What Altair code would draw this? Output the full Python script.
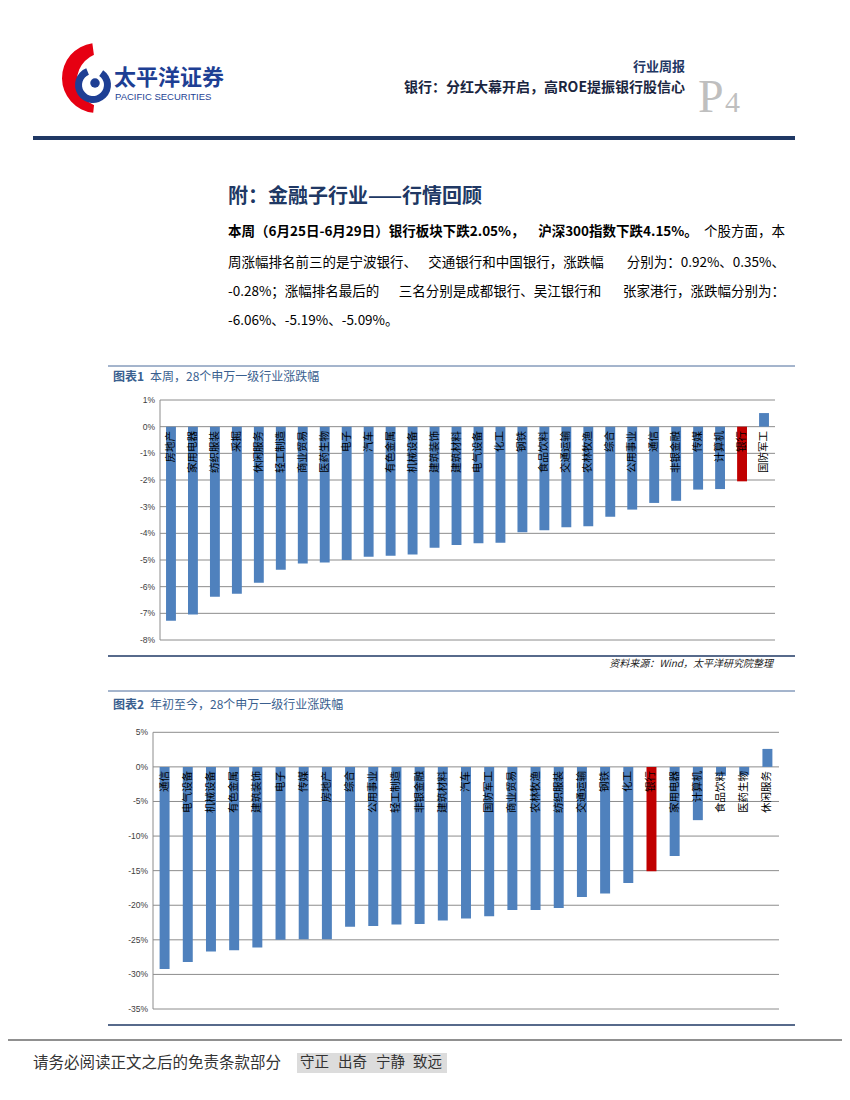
import altair as alt
import pandas as pd

# ---------------- data ----------------
week_industries = ["房地产", "家用电器", "纺织服装", "采掘", "休闲服务", "轻工制造", "商业贸易",
                   "医药生物", "电子", "汽车", "有色金属", "机械设备", "建筑装饰", "建筑材料",
                   "电气设备", "化工", "钢铁", "食品饮料", "交通运输", "农林牧渔", "综合",
                   "公用事业", "通信", "非银金融", "传媒", "计算机", "银行", "国防军工"]
week_changes = [-7.28, -7.04, -6.38, -6.27, -5.85, -5.37, -5.13, -5.09, -5.00, -4.88, -4.84,
                -4.79, -4.54, -4.44, -4.37, -4.35, -3.96, -3.88, -3.77, -3.73, -3.38, -3.11,
                -2.86, -2.78, -2.36, -2.34, -2.05, 0.51]
week_ticks = [1, 0, -1, -2, -3, -4, -5, -6, -7, -8]

ytd_industries = ["通信", "电气设备", "机械设备", "有色金属", "建筑装饰", "电子", "传媒", "房地产",
                  "综合", "公用事业", "轻工制造", "非银金融", "建筑材料", "汽车", "国防军工",
                  "商业贸易", "农林牧渔", "纺织服装", "交通运输", "钢铁", "化工", "银行",
                  "家用电器", "计算机", "食品饮料", "医药生物", "休闲服务"]
ytd_changes = [-29.2, -28.2, -26.7, -26.5, -26.1, -25.0, -24.9, -24.9, -23.1, -23.0, -22.8,
               -22.7, -22.2, -21.9, -21.6, -20.7, -20.7, -20.4, -18.8, -18.3, -16.8, -15.1,
               -12.9, -7.7, -1.3, -1.2, 2.6]
ytd_ticks = [5, 0, -5, -10, -15, -20, -25, -30, -35]

HIGHLIGHT = "银行"

# ---------------- helpers ----------------
M = 8
FONT = "Noto Sans CJK SC"
BLUE = "#4F81BD"
RED = "#C00000"
NAVY = "#1F3864"


def px(v):
    return v - M


def one():
    return alt.Data(values=[{}])


def text(s, x, y, size=12, color="#000000", weight="normal", align="left",
         baseline="middle", font=FONT, style="normal"):
    return alt.Chart(one()).mark_text(
        text=s, fontSize=size, color=color, fontWeight=weight, align=align,
        baseline=baseline, font=font, fontStyle=style
    ).encode(x=alt.value(px(x)), y=alt.value(px(y)))


def hline(x1, x2, y, color="#000000", width=1.0):
    return alt.Chart(one()).mark_rule(color=color, strokeWidth=width).encode(
        x=alt.value(px(x1)), x2=alt.value(px(x2)), y=alt.value(px(y)))


def vline(x, y1, y2, color="#000000", width=1.0):
    return alt.Chart(one()).mark_rule(color=color, strokeWidth=width).encode(
        x=alt.value(px(x)), y=alt.value(px(y1)), y2=alt.value(px(y2)))


def rect(x1, x2, y1, y2, color):
    return alt.Chart(one()).mark_rect(color=color).encode(
        x=alt.value(px(x1)), x2=alt.value(px(x2)), y=alt.value(px(y1)), y2=alt.value(px(y2)))


def bar_panel(cats, vals, ticks, left, right, ytop, ybottom, dom, pad_inner, lab_x, cat_y):
    df = pd.DataFrame({"industry": cats, "change": vals})
    tdf = pd.DataFrame({"change": ticks, "label": [f"{t}%" for t in ticks]})
    xs = alt.Scale(domain=cats, range=[px(left), px(right)], paddingInner=pad_inner,
                   paddingOuter=pad_inner / 2)
    ys = alt.Scale(domain=dom, range=[px(ybottom), px(ytop)], nice=False, zero=False)
    grid = alt.Chart(tdf).mark_rule(color="#8C8C8C", strokeWidth=1).encode(
        y=alt.Y("change:Q", scale=ys, axis=None),
        x=alt.value(px(left)), x2=alt.value(px(right)))
    ticklab = alt.Chart(tdf).mark_text(
        align="right", baseline="middle", fontSize=8.5, color="#404040", font="Liberation Sans"
    ).encode(y=alt.Y("change:Q", scale=ys, axis=None), x=alt.value(px(lab_x)), text="label:N")
    axis_line = vline(left, ytop, ybottom, color="#8C8C8C", width=1)
    bars = alt.Chart(df).mark_bar().encode(
        x=alt.X("industry:N", scale=xs, axis=None, sort=cats),
        y=alt.Y("change:Q", scale=ys, axis=None),
        y2=alt.datum(0),
        color=alt.condition(alt.datum.industry == HIGHLIGHT, alt.value(RED), alt.value(BLUE)),
    )
    catlab = alt.Chart(df).mark_text(
        angle=270, align="right", baseline="middle", fontSize=10.5, color="#000000", font=FONT
    ).encode(x=alt.X("industry:N", scale=xs, axis=None, sort=cats),
             y=alt.value(px(cat_y)), text="industry:N")
    return alt.layer(grid, axis_line, bars, ticklab, catlab)


panel1 = bar_panel(week_industries, week_changes, week_ticks, 160, 775, 400, 640,
                   [-8, 1], 0.55, 155, 431)
panel2 = bar_panel(ytd_industries, ytd_changes, ytd_ticks, 153, 779, 732.3, 1009,
                   [-35, 5], 0.57, 148, 771)

# ---------------- page decoration ----------------
PS = 13.5
decor = [
    # logo
    alt.Chart(one()).mark_arc(outerRadius=35, innerRadius=0, color="#E60012").encode(
        x=alt.value(px(97)), y=alt.value(px(78)), theta=alt.value(3.25), theta2=alt.value(6.15)),
    alt.Chart(one()).mark_circle(size=2900, color="#FFFFFF", opacity=1).encode(
        x=alt.value(px(104)), y=alt.value(px(80))),
    alt.Chart(one()).mark_arc(outerRadius=18, innerRadius=11, color="#1E3F94").encode(
        x=alt.value(px(93)), y=alt.value(px(85)), theta=alt.value(0.6), theta2=alt.value(5.9)),
    alt.Chart(one()).mark_circle(size=90, color="#1E3F94", opacity=1).encode(
        x=alt.value(px(95)), y=alt.value(px(83))),
    text("太平洋证券", 114, 78, size=22, color="#1E3F94", weight="bold"),
    text("PACIFIC SECURITIES", 115, 97, size=9.5, color="#1E3F94", font="Liberation Sans"),
    # header right
    text("行业周报", 685, 67, size=13, color=NAVY, weight="bold", align="right"),
    text("银行：分红大幕开启，高ROE提振银行股信心", 685, 88, size=14, color="#1A2540",
         weight="bold", align="right"),
    text("P", 698, 112, size=46, color="#BFBFBF", font="Liberation Serif", baseline="alphabetic"),
    text("4", 725, 112, size=30, color="#BFBFBF", font="Liberation Serif", baseline="alphabetic"),
    hline(33, 795, 138, color=NAVY, width=4),
    # section title and paragraph (justified lines approximated by pieces)
    text("附：金融子行业——行情回顾", 228, 197, size=20, color="#203864", weight="bold"),
    text("本周（6月25日-6月29日）银行板块下跌2.05%，", 228, 232, size=PS, weight="bold"),
    text("沪深300指数下跌4.15%。", 618, 232, size=PS, weight="bold", align="center"),
    text("个股方面，本", 785, 232, size=PS, align="right"),
    text("周涨幅排名前三的是宁波银行、", 228, 263, size=PS),
    text("交通银行和中国银行，涨跌幅", 516, 263, size=PS, align="center"),
    text("分别为：0.92%、0.35%、", 785, 263, size=PS, align="right"),
    text("-0.28%；涨幅排名最后的", 228, 292, size=PS),
    text("三名分别是成都银行、吴江银行和", 500, 292, size=PS, align="center"),
    text("张家港行，涨跌幅分别为：", 785, 292, size=PS, align="right"),
    text("-6.06%、-5.19%、-5.09%。", 228, 321, size=PS),
    # chart 1 frame
    hline(108, 795, 366, color="#4A6A9A", width=1),
    text("图表1", 113, 377, size=12, color="#3A5F8F", weight="bold"),
    text("本周，28个申万一级行业涨跌幅", 150, 377, size=12, color="#3A5F8F"),
    hline(108, 795, 656, color=NAVY, width=1.5),
    text("资料来源：Wind，太平洋研究院整理", 773, 664, size=10, color="#222222",
         align="right", style="italic"),
    # chart 2 frame
    hline(108, 795, 691, color="#4A6A9A", width=1),
    text("图表2", 113, 705, size=12, color="#3A5F8F", weight="bold"),
    text("年初至今，28个申万一级行业涨跌幅", 150, 705, size=12, color="#3A5F8F"),
    hline(108, 795, 1025, color=NAVY, width=1.5),
    # footer
    hline(0, 850, 1040, color="#6B6B6B", width=1.5),
    text("请务必阅读正文之后的免责条款部分", 33, 1063, size=15.5, color="#333333"),
    rect(297, 447, 1053, 1073, "#DCDCDC"),
    text("守正", 300, 1063, size=14.5, color="#333333"),
    text("出奇", 338, 1063, size=14.5, color="#333333"),
    text("宁静", 376, 1063, size=14.5, color="#333333"),
    text("致远", 413, 1063, size=14.5, color="#333333"),
]

chart = alt.layer(*decor, panel1, panel2).resolve_scale(
    x="independent", y="independent"
).properties(
    width=834, height=1084, padding=0,
    autosize=alt.AutoSizeParams(type="none"),
).configure_view(strokeWidth=0)

chart.save("out.html", embed_options={"renderer": "svg", "actions": False})
